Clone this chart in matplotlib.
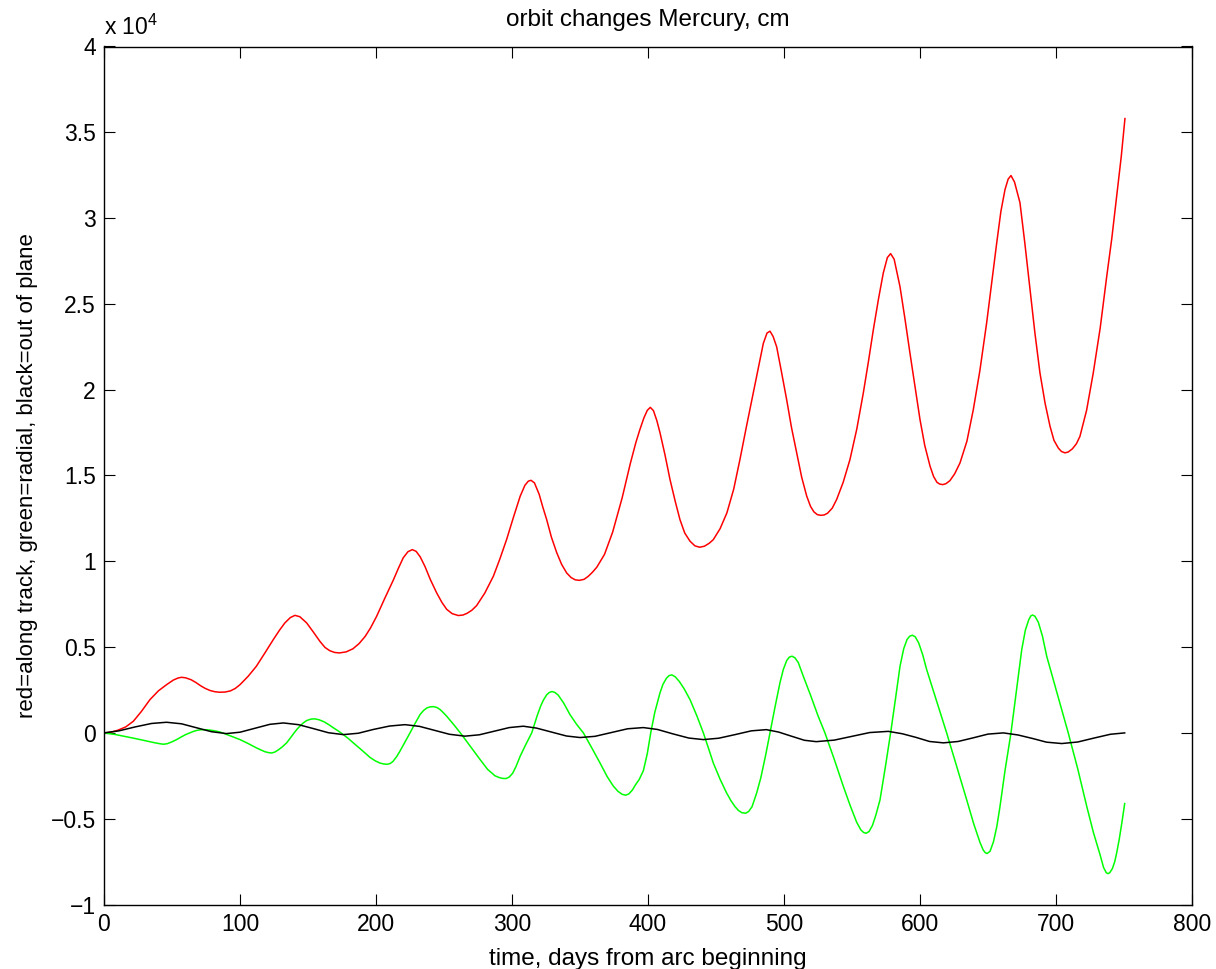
import matplotlib
matplotlib.use("Agg")
import matplotlib.pyplot as plt
from matplotlib.ticker import MultipleLocator, FuncFormatter

# ── Fonts (Helvetica look-alike, MATLAB style) ─────────────────────────────
plt.rcParams['font.family'] = ['Liberation Sans', 'DejaVu Sans']
plt.rcParams['mathtext.fontset'] = 'custom'
plt.rcParams['mathtext.rm'] = 'Liberation Sans'

# ── Data (y in units of 1e4 cm) ────────────────────────────────────────────
# red = along track
red_t = [0, 5, 10, 16, 21.6, 27.5, 33.8, 40, 46, 51, 54.5, 57,
         60, 64, 67.5, 71, 74.5, 78, 81.5, 85,
         89, 93, 96.5, 100, 106, 112, 118, 124.5, 129, 133, 137, 140.4,
         144, 149, 154, 158.8, 162.5, 166, 169.5, 173,
         178, 183, 187.5, 192, 196, 200.5, 206.5, 212.7, 216.5, 220, 223.5, 226.7,
         229.5, 232.5, 236, 240, 244.6, 248.5, 252, 256, 260.5,
         264, 267, 270.5, 274, 280, 286.3, 291, 296, 301, 306, 309.5, 312, 314,
         316.5, 320, 322.5, 325.5, 329, 332.9, 336.5, 340.2, 343.5, 346.5, 349.5,
         353, 356, 359, 362.3, 368, 374, 381, 387, 391, 394, 397, 399.5, 401.7,
         404, 406.5, 408.8, 412.5, 416.2, 420, 423.5, 427, 430.9, 434.5, 438,
         441.5, 445, 448, 453, 458, 463, 467.6, 472.5, 477.4, 481.5, 484.8, 487.5, 489.7,
         492, 494.6, 498, 502, 505.5, 509.3, 513, 516.7, 519.5, 522, 524.5, 527,
         529.5, 532, 535.5, 538.7, 543.5, 548.5, 553.5, 558.3, 562, 565.7, 569.5, 573, 576, 578.4,
         581, 585.3, 589, 592.6, 596.5, 600, 603.5, 607.4, 610, 612.5, 614.5, 616.7,
         619, 622, 625.5, 629.4, 634.5, 639.2, 644, 649, 652.5, 656.4, 659.5, 662.5, 664.8, 666.9,
         669.5, 673.5, 677, 680.9, 684.5, 688.2, 692, 695.6, 698.5, 701.7, 704, 706.6,
         709, 712, 715, 717.6, 722.5, 727.4, 732.5, 737.3, 741, 744.6, 748, 750.7]
red_v = [0, 0.004, 0.015, 0.035, 0.068, 0.125, 0.194, 0.245, 0.281, 0.308, 0.320, 0.324,
         0.321, 0.31, 0.294, 0.275, 0.259, 0.247, 0.24, 0.237,
         0.238, 0.245, 0.259, 0.281, 0.33, 0.388, 0.462, 0.544, 0.598, 0.641, 0.672, 0.685,
         0.677, 0.641, 0.587, 0.533, 0.498, 0.479, 0.469, 0.466,
         0.472, 0.49, 0.52, 0.562, 0.612, 0.68, 0.785, 0.89, 0.96, 1.02, 1.056, 1.068,
         1.058, 1.026, 0.97, 0.893, 0.816, 0.76, 0.72, 0.695, 0.684,
         0.687, 0.697, 0.715, 0.742, 0.815, 0.913, 1.012, 1.126, 1.255, 1.379, 1.443, 1.467, 1.472,
         1.457, 1.39, 1.32, 1.243, 1.14, 1.05, 0.982, 0.932, 0.905, 0.892, 0.889,
         0.895, 0.912, 0.935, 0.965, 1.04, 1.17, 1.37, 1.57, 1.69, 1.767, 1.836, 1.88, 1.897,
         1.878, 1.82, 1.75, 1.62, 1.476, 1.35, 1.243, 1.165, 1.117, 1.09, 1.082,
         1.088, 1.105, 1.126, 1.19, 1.282, 1.42, 1.593, 1.79, 1.98, 2.14, 2.27, 2.33, 2.341,
         2.31, 2.25, 2.11, 1.94, 1.78, 1.632, 1.49, 1.38, 1.32, 1.288, 1.272, 1.268,
         1.27, 1.28, 1.31, 1.36, 1.46, 1.593, 1.77, 1.98, 2.16, 2.35, 2.53, 2.68, 2.77, 2.793,
         2.76, 2.6, 2.41, 2.214, 2.01, 1.826, 1.675, 1.554, 1.494, 1.46, 1.45, 1.447,
         1.452, 1.47, 1.51, 1.573, 1.7, 1.884, 2.11, 2.389, 2.61, 2.855, 3.04, 3.166, 3.227, 3.248,
         3.21, 3.09, 2.86, 2.583, 2.33, 2.098, 1.92, 1.787, 1.705, 1.66, 1.64, 1.632,
         1.637, 1.655, 1.685, 1.728, 1.88, 2.098, 2.36, 2.66, 2.88, 3.127, 3.36, 3.58]

# green = radial
green_t = [0, 8, 15, 22.5, 30, 37, 41, 43.6, 46.5, 50, 53.4, 56.5, 60, 63, 65.5, 68.5, 71, 73,
           76, 80, 85, 92.5, 100, 106, 112, 115.5, 118.5, 121, 123.3,
           125.5, 128, 131, 134.3, 137, 139.5, 142, 144, 146.5, 149, 152, 154.7,
           158, 162, 165.5, 168.6, 172.5, 176, 180, 183.3, 189.5, 195.6, 199.5, 203, 205.7, 208.3,
           210.5, 212.5, 215.2, 217.5, 220, 222.5, 225, 228.5, 232.4, 235, 237.5, 240, 242.2,
           244.5, 247, 249.5, 252, 257.5, 263, 270, 276.5, 282, 287.5, 290.5, 293, 295.6,
           298, 300.5, 303, 306, 310, 314.5, 318.5, 321, 323, 325.5, 327.5, 329.4,
           331.5, 334, 338, 342.6, 347.5, 352.5, 358.5, 364.7, 370, 374.5, 378, 381, 383.6,
           386, 388.5, 391, 393.5, 396.6, 399.5, 402, 405, 408.8, 411, 413.5, 415.5, 417.6,
           420, 423, 426.5, 430.9, 436, 440.7, 444.5, 448, 453, 457.8, 461, 464, 466.5, 469, 471.8,
           474, 476.5, 479.9, 483, 486.5, 489.7, 493.5, 497, 499.5, 502, 504, 505.9,
           508, 510.5, 514.2, 519.5, 525, 530.1, 537, 543.6, 548.5, 553.4, 556.5, 558.5, 560.3,
           562.5, 565, 567.5, 570.6, 574.5, 578.4, 582, 585.3, 588, 590.5, 592.5, 594.4,
           596.5, 599, 602, 604.9, 612, 619.6, 627, 634.3, 639.5, 644.1, 646.5, 648, 649.3,
           651.5, 654, 656.5, 658.8, 662.5, 666.9, 671, 674.8, 677.5, 680, 681.5, 682.8,
           684.5, 687, 690, 693.2, 701, 709, 716, 722.6, 727.5, 732.4, 735, 737, 738.2,
           739.5, 741.5, 743.2, 744.6, 746.5, 748.5, 750.5]
green_v = [0, -0.009, -0.02, -0.032, -0.045, -0.057, -0.063, -0.066, -0.063, -0.052, -0.039,
           -0.025, -0.01, 0.0, 0.008, 0.015, 0.018, 0.019,
           0.018, 0.014, 0.006, -0.016, -0.039, -0.062, -0.087, -0.1, -0.11, -0.115, -0.117,
           -0.112, -0.1, -0.082, -0.058, -0.03, -0.003, 0.022, 0.039, 0.058, 0.072, 0.08, 0.082,
           0.077, 0.064, 0.047, 0.03, 0.01, -0.01, -0.035, -0.058, -0.1, -0.143, -0.163, -0.176,
           -0.181, -0.183,
           -0.178, -0.166, -0.138, -0.108, -0.072, -0.036, 0.0, 0.052, 0.107, 0.131, 0.146, 0.152,
           0.153,
           0.149, 0.137, 0.118, 0.097, 0.045, -0.01, -0.085, -0.155, -0.212, -0.25, -0.26, -0.265,
           -0.266,
           -0.257, -0.235, -0.195, -0.136, -0.07, 0.0, 0.1, 0.155, 0.19, 0.222, 0.236, 0.241,
           0.236, 0.22, 0.174, 0.107, 0.05, 0.0, -0.085, -0.175, -0.255, -0.31, -0.341, -0.358,
           -0.363,
           -0.355, -0.333, -0.3, -0.272, -0.22, -0.12, 0.0, 0.12, 0.233, 0.283, 0.318, 0.334, 0.338,
           0.327, 0.3, 0.258, 0.194, 0.098, 0.0, -0.09, -0.175, -0.27, -0.35, -0.395, -0.43,
           -0.452, -0.465, -0.468,
           -0.458, -0.43, -0.35, -0.26, -0.13, 0.0, 0.155, 0.291, 0.37, 0.422, 0.442, 0.447,
           0.438, 0.41, 0.33, 0.22, 0.1, 0.0, -0.155, -0.311, -0.42, -0.52, -0.565, -0.58, -0.585,
           -0.575, -0.54, -0.48, -0.39, -0.2, 0.0, 0.2, 0.388, 0.49, 0.545, 0.564, 0.569,
           0.56, 0.525, 0.455, 0.369, 0.19, 0.0, -0.195, -0.389, -0.53, -0.638, -0.683, -0.698,
           -0.703,
           -0.69, -0.635, -0.545, -0.43, -0.22, 0.0, 0.25, 0.485, 0.6, 0.66, 0.682, 0.687,
           0.68, 0.645, 0.565, 0.446, 0.225, 0.0, -0.21, -0.428, -0.58, -0.71, -0.785, -0.815,
           -0.82,
           -0.815, -0.79, -0.75, -0.7, -0.62, -0.52, -0.412]

# black = out of plane
black_t = [0, 11, 23, 35, 46, 57, 68, 79, 90, 100, 111, 122, 131.9, 143, 154, 165, 176,
           187, 198, 210, 221.3, 232, 243, 254, 265.4, 276, 287, 298, 308.3, 318, 329,
           340, 350, 361, 373, 385, 396.6, 407, 418, 430, 440.7, 452, 464, 476, 487,
           496, 505, 515, 523.7, 537, 550, 563, 576.7, 587, 597, 607, 617.2, 628, 639,
           650, 661.3, 672, 683, 693, 704.2, 716, 728, 740, 750.5]
black_v = [0, 0.012, 0.035, 0.055, 0.062, 0.053, 0.03, 0.007, -0.004, 0.004, 0.027, 0.05,
           0.058, 0.048, 0.025, 0.001, -0.01, -0.002, 0.02, 0.04, 0.048, 0.038, 0.015,
           -0.008, -0.019, -0.011, 0.01, 0.031, 0.039, 0.028, 0.005, -0.018, -0.027, -0.02,
           0.002, 0.024, 0.031, 0.02, -0.005, -0.03, -0.039, -0.031, -0.01, 0.012, 0.019,
           0.005, -0.018, -0.043, -0.051, -0.042, -0.02, 0.002, 0.009, -0.005, -0.026,
           -0.05, -0.058, -0.05, -0.029, -0.007, 0.0, -0.012, -0.033, -0.054, -0.062,
           -0.053, -0.03, -0.008, 0.0]

# ── Figure ─────────────────────────────────────────────────────────────────
fig = plt.figure(figsize=(12.16, 9.69), dpi=100)
ax = fig.add_axes([104 / 1216, 1 - 904.5 / 969, 1088 / 1216, 858 / 969])

lw = 1.1
ax.plot(red_t, red_v, color='#ff0000', lw=lw, solid_joinstyle='round')
ax.plot(green_t, green_v, color='#00ff00', lw=lw, solid_joinstyle='round')
ax.plot(black_t, black_v, color='#000000', lw=lw, solid_joinstyle='round')

ax.set_xlim(0, 800)
ax.set_ylim(-1, 4)
ax.xaxis.set_major_locator(MultipleLocator(100))
ax.yaxis.set_major_locator(MultipleLocator(0.5))
ax.yaxis.set_major_formatter(FuncFormatter(lambda v, p: f'{v:g}'.replace('-', '\u2212')))

ax.tick_params(direction='in', length=8, width=0.8, labelsize=16.5,
               top=True, right=True, pad=6)
for s in ax.spines.values():
    s.set_linewidth(1.0)

ax.text(0, 1.013, 'x 10$^{4}$', transform=ax.transAxes, fontsize=16.5,
        ha='left', va='baseline')

ax.set_title('orbit changes Mercury, cm', fontsize=17.5, pad=15)
ax.set_xlabel('time, days from arc beginning', fontsize=17.5, labelpad=9)
ax.set_ylabel('red=along track, green=radial, black=out of plane',
              fontsize=16, labelpad=9)

fig.savefig('out.png', dpi=100)
